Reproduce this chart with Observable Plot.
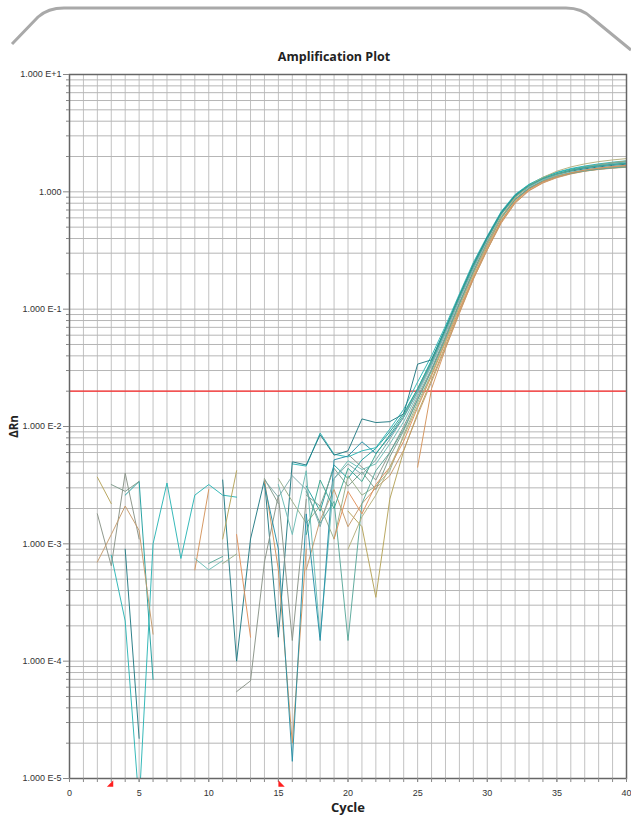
<!DOCTYPE html>
<html>
<head>
<meta charset="utf-8">
<script src="https://cdn.jsdelivr.net/npm/d3@7"></script>
<script src="https://cdn.jsdelivr.net/npm/@observablehq/plot@0.6"></script>
<style>
  html, body { margin: 0; padding: 0; background: #fff; }
  #page { position: relative; width: 631px; height: 816px; overflow: hidden; background: #fff; }
  #deco { position: absolute; left: 0; top: 0; }
  #title { position: absolute; left: 234px; top: 49px; width: 200px; text-align: center;
           font-family: "Open Sans", sans-serif; font-weight: 700; font-size: 12.5px; line-height: 16px; color: #222; }
  #chart { position: absolute; left: 0; top: 66px; }
  #chart svg [aria-label="x-axis label"] text,
  #chart svg [aria-label="y-axis label"] text { font-family: "Open Sans", sans-serif; font-weight: 700; font-size: 13px; fill: #222; }
  #chart svg [aria-label="y-axis label"] text { font-size: 11.5px; }
</style>
</head>
<body>
<div id="page">
  <svg id="deco" width="631" height="60">
    <path d="M 12 44 L 38 17 Q 48 8 64 8 L 566 8 Q 582 8 592 18 L 631 50" fill="none" stroke="#a9a9a9" stroke-width="3" stroke-linejoin="round"/>
  </svg>
  <div id="title">Amplification Plot</div>
  <div id="chart"></div>
</div>
<script>
const _ = null;
// cycles 1..40
const cycles = [1,2,3,4,5,6,7,8,9,10,11,12,13,14,15,16,17,18,19,20,21,22,23,24,25,26,27,28,29,30,31,32,33,34,35,36,37,38,39,40];

const xMajorTicks = [0, 5, 10, 15, 20, 25, 30, 35, 40];
const xGridTicks = [0,1,2,3,4,5,6,7,8,9,10,11,12,13,14,15,16,17,18,19,20,21,22,23,24,25,26,27,28,29,30,31,32,33,34,35,36,37,38,39,40];
const yMajorTicks = [1e-5, 1e-4, 1e-3, 1e-2, 1e-1, 1, 10];
const yTickLabels = ["1.000 E-5", "1.000 E-4", "1.000 E-3", "1.000 E-2", "1.000 E-1", "1.000", "1.000 E+1"];
const yMinorMultipliers = [2, 3, 4, 5, 6, 7, 8, 9];
const threshold = 0.02;
const baselineStart = 3;
const baselineEnd = 15;

const wellNames = ["A1","A2","A3","A4","A5","A6","A7","A8","B1","B2","B3","B4","B5","B6","B7","B8"];
const wellColors = ["#1f9e9e","#2cb5b5","#237a84","#7d9a8a","#b5a35a","#d4935c","#8a9488","#6cbcb4",
                    "#98ae88","#c49a6c","#2690a8","#5aa89a","#e0905a","#7aa8a8","#b4b07c","#3aa890"];

const wellA1 = [_, _, _, 0.0026, 0.0034, 0.00007, _, _, _, _, _, _, _, _, _, _, 0.0031, 0.0019, 0.0047, 0.0036, 0.0052, 0.0065, 0.009, 0.013, 0.021, 0.037, 0.069, 0.13, 0.24, 0.41, 0.67, 0.94, 1.15, 1.32, 1.46, 1.56, 1.64, 1.71, 1.76, 1.8];
const wellA2 = [_, _, 0.0008, 0.00022, 0.000006, 0.001, 0.0033, 0.00075, 0.0026, 0.0032, 0.0026, 0.0025, _, _, _, 0.0048, 0.0046, 0.0088, 0.0058, 0.0055, 0.0062, 0.0066, 0.0095, 0.014, 0.024, 0.04, 0.072, 0.135, 0.25, 0.42, 0.68, 0.95, 1.16, 1.33, 1.47, 1.58, 1.66, 1.73, 1.79, 1.84];
const wellA3 = [_, _, _, 0.0009, 0.000022, _, _, _, _, _, 0.0035, 0.0001, 0.0011, 0.0035, 0.00016, 0.005, 0.0047, 0.0085, 0.0057, 0.0062, 0.0116, 0.0108, 0.011, 0.0128, 0.034, 0.037, 0.068, 0.13, 0.24, 0.41, 0.66, 0.93, 1.13, 1.29, 1.41, 1.5, 1.57, 1.63, 1.68, 1.72];
const wellA4 = [_, _, 0.0032, 0.0028, 0.0034, _, _, _, _, _, _, _, _, 0.0036, 0.0022, _, 0.0026, 0.0021, 0.0044, 0.0031, 0.0041, 0.0029, 0.0055, 0.0092, 0.017, 0.03, 0.057, 0.112, 0.21, 0.37, 0.61, 0.87, 1.08, 1.24, 1.37, 1.46, 1.53, 1.59, 1.64, 1.68];
const wellA5 = [_, 0.0037, 0.0022, _, _, _, _, _, _, _, 0.0011, 0.0042, _, _, _, _, _, _, _, 0.0019, 0.0014, 0.00035, 0.0024, 0.0062, 0.013, 0.025, 0.049, 0.097, 0.185, 0.33, 0.56, 0.83, 1.06, 1.25, 1.4, 1.52, 1.62, 1.7, 1.77, 1.83];
const wellA6 = [_, _, _, _, _, _, _, _, 0.0006, 0.0029, _, _, _, 0.0035, 0.0006, 0.00002, 0.0009, _, _, _, _, _, _, _, 0.0045, 0.021, 0.046, 0.092, 0.18, 0.32, 0.54, 0.8, 1.02, 1.19, 1.32, 1.42, 1.5, 1.55, 1.59, 1.62];
const wellA7 = [_, 0.0018, 0.00065, 0.004, 0.0011, _, _, _, _, _, _, 0.000055, 0.000068, 0.0007, 0.0026, 0.00015, 0.0024, _, _, 0.0058, 0.0045, 0.0035, 0.006, 0.01, 0.018, 0.031, 0.059, 0.114, 0.21, 0.37, 0.61, 0.86, 1.07, 1.23, 1.35, 1.44, 1.51, 1.57, 1.62, 1.66];
const wellA8 = [_, _, _, _, _, _, _, _, 0.00075, 0.0006, 0.00072, _, _, _, 0.0032, 0.0012, 0.0042, 0.00016, 0.0036, 0.0051, 0.0043, 0.0048, 0.0071, 0.011, 0.019, 0.033, 0.062, 0.12, 0.22, 0.39, 0.64, 0.9, 1.1, 1.26, 1.38, 1.47, 1.54, 1.6, 1.65, 1.69];
const wellB1 = [_, _, _, _, _, _, _, _, _, _, 0.00068, 0.00082, _, _, 0.0036, 0.0023, 0.0015, 0.0021, 0.0011, 0.0038, 0.0026, 0.0031, 0.0042, 0.0085, 0.016, 0.028, 0.054, 0.105, 0.2, 0.35, 0.59, 0.85, 1.06, 1.22, 1.35, 1.45, 1.52, 1.58, 1.63, 1.67];
const wellB2 = [_, 0.0007, 0.0012, 0.0021, 0.0013, 0.00017, _, _, _, _, _, _, _, _, _, _, 0.0006, 0.0016, 0.0029, 0.0014, 0.0022, 0.003, 0.0038, 0.0063, 0.0125, 0.024, 0.047, 0.094, 0.18, 0.32, 0.55, 0.81, 1.03, 1.2, 1.33, 1.43, 1.5, 1.56, 1.6, 1.63];
const wellB3 = [_, _, _, _, _, _, _, _, _, _, _, _, _, 0.0032, 0.0009, 0.000014, 0.0018, 0.00015, 0.0052, 0.0056, 0.0074, 0.0059, 0.0082, 0.012, 0.02, 0.035, 0.066, 0.126, 0.23, 0.4, 0.65, 0.91, 1.12, 1.29, 1.42, 1.52, 1.6, 1.66, 1.71, 1.75];
const wellB4 = [_, _, _, _, _, _, _, _, _, 0.00068, 0.00078, _, _, _, _, _, 0.0028, 0.0015, 0.0023, 0.00015, 0.0022, 0.0042, 0.006, 0.0095, 0.017, 0.03, 0.056, 0.11, 0.205, 0.36, 0.6, 0.86, 1.07, 1.23, 1.35, 1.44, 1.51, 1.56, 1.6, 1.63];
const wellB5 = [_, _, _, _, _, _, _, _, _, _, _, 0.0012, 0.00016, _, _, _, _, _, 0.0011, 0.0028, 0.0018, 0.0032, 0.0045, 0.0075, 0.0145, 0.027, 0.052, 0.1, 0.19, 0.34, 0.57, 0.83, 1.05, 1.22, 1.35, 1.45, 1.53, 1.59, 1.64, 1.68];
const wellB6 = [_, _, _, _, _, _, _, _, _, _, _, _, _, 0.0035, 0.0025, 0.0038, 0.0029, 0.0014, 0.0036, 0.0048, 0.0039, 0.0052, 0.0078, 0.012, 0.02, 0.034, 0.064, 0.122, 0.225, 0.39, 0.64, 0.9, 1.11, 1.28, 1.42, 1.53, 1.62, 1.7, 1.76, 1.81];
const wellB7 = [_, _, _, _, _, _, _, _, _, _, _, _, _, _, _, _, _, _, _, 0.0009, 0.0017, 0.0026, 0.0045, 0.0082, 0.015, 0.028, 0.054, 0.106, 0.2, 0.36, 0.61, 0.89, 1.13, 1.33, 1.5, 1.63, 1.73, 1.81, 1.87, 1.92];
const wellB8 = [_, _, _, _, _, _, _, _, _, _, _, _, _, _, _, _, 0.0012, 0.0035, 0.002, 0.0044, 0.0034, 0.0058, 0.0085, 0.0125, 0.021, 0.036, 0.067, 0.128, 0.235, 0.4, 0.65, 0.92, 1.13, 1.3, 1.43, 1.53, 1.61, 1.67, 1.72, 1.76];

const wells = [wellA1, wellA2, wellA3, wellA4, wellA5, wellA6, wellA7, wellA8,
               wellB1, wellB2, wellB3, wellB4, wellB5, wellB6, wellB7, wellB8];

const rows = [];
wells.forEach((vals, i) => vals.forEach((v, j) => {
  rows.push({well: wellNames[i], color: wellColors[i], cycle: cycles[j], dRn: v});
}));

const yMinorTicks = [];
yMajorTicks.slice(0, -1).forEach(d => yMinorMultipliers.forEach(m => yMinorTicks.push(d * m)));
const yGridTicks = yMajorTicks.concat(yMinorTicks);

const triLeft = { draw(ctx, size) { const s = Math.sqrt(size); ctx.moveTo(2, -s/2); ctx.lineTo(2, s/2); ctx.lineTo(2 - s, s/2); ctx.closePath(); } };
const triRight = { draw(ctx, size) { const s = Math.sqrt(size); ctx.moveTo(0, -s/2); ctx.lineTo(0, s/2); ctx.lineTo(s, s/2); ctx.closePath(); } };

const chart = Plot.plot({
  width: 631,
  height: 750,
  marginTop: 8,
  marginBottom: 38,
  marginLeft: 69,
  marginRight: 5,
  x: {domain: [0, 40]},
  y: {type: "log", domain: [1e-5, 10]},
  color: {type: "identity"},
  style: {fontFamily: "'Liberation Sans', Arial, sans-serif", fontSize: "9px", color: "#333", background: "transparent", overflow: "visible"},
  marks: [
    Plot.gridX(xGridTicks, {stroke: "#c2c2c2", strokeOpacity: 1, strokeWidth: 1}),
    Plot.gridY(yGridTicks, {stroke: "#b6b6b6", strokeOpacity: 1, strokeWidth: 1}),
    Plot.ruleY([threshold], {stroke: "#ff2a2a", strokeWidth: 1.2}),
    Plot.line(rows, {x: "cycle", y: "dRn", z: "well", stroke: "color", strokeWidth: 1, strokeOpacity: 0.95, clip: true}),
    Plot.frame({stroke: "#666", strokeWidth: 1.5}),
    Plot.axisX(xMajorTicks, {tickSize: 4, tickPadding: 7, stroke: "#888", label: "Cycle", labelAnchor: "center", labelArrow: "none", labelOffset: 33}),
    Plot.axisX(xGridTicks, {tickSize: 4, stroke: "#888", text: null, label: null}),
    Plot.axisY(yMajorTicks, {tickSize: 6, tickPadding: 2, stroke: "#888", tickFormat: d => yTickLabels[yMajorTicks.indexOf(d)],
                             label: "ΔRn", labelAnchor: "center", labelArrow: "none", labelOffset: 60}),
    Plot.axisY(yMinorTicks, {tickSize: 3, stroke: "#888", text: null, label: null}),
    Plot.dot([baselineStart], {x: d => d, frameAnchor: "bottom", dy: 5, symbol: triLeft, r: 3.6, fill: "#ff2020", stroke: null}),
    Plot.dot([baselineEnd], {x: d => d, frameAnchor: "bottom", dy: 5, symbol: triRight, r: 3.6, fill: "#ff2020", stroke: null})
  ]
});
document.getElementById("chart").appendChild(chart);
</script>
</body>
</html>
